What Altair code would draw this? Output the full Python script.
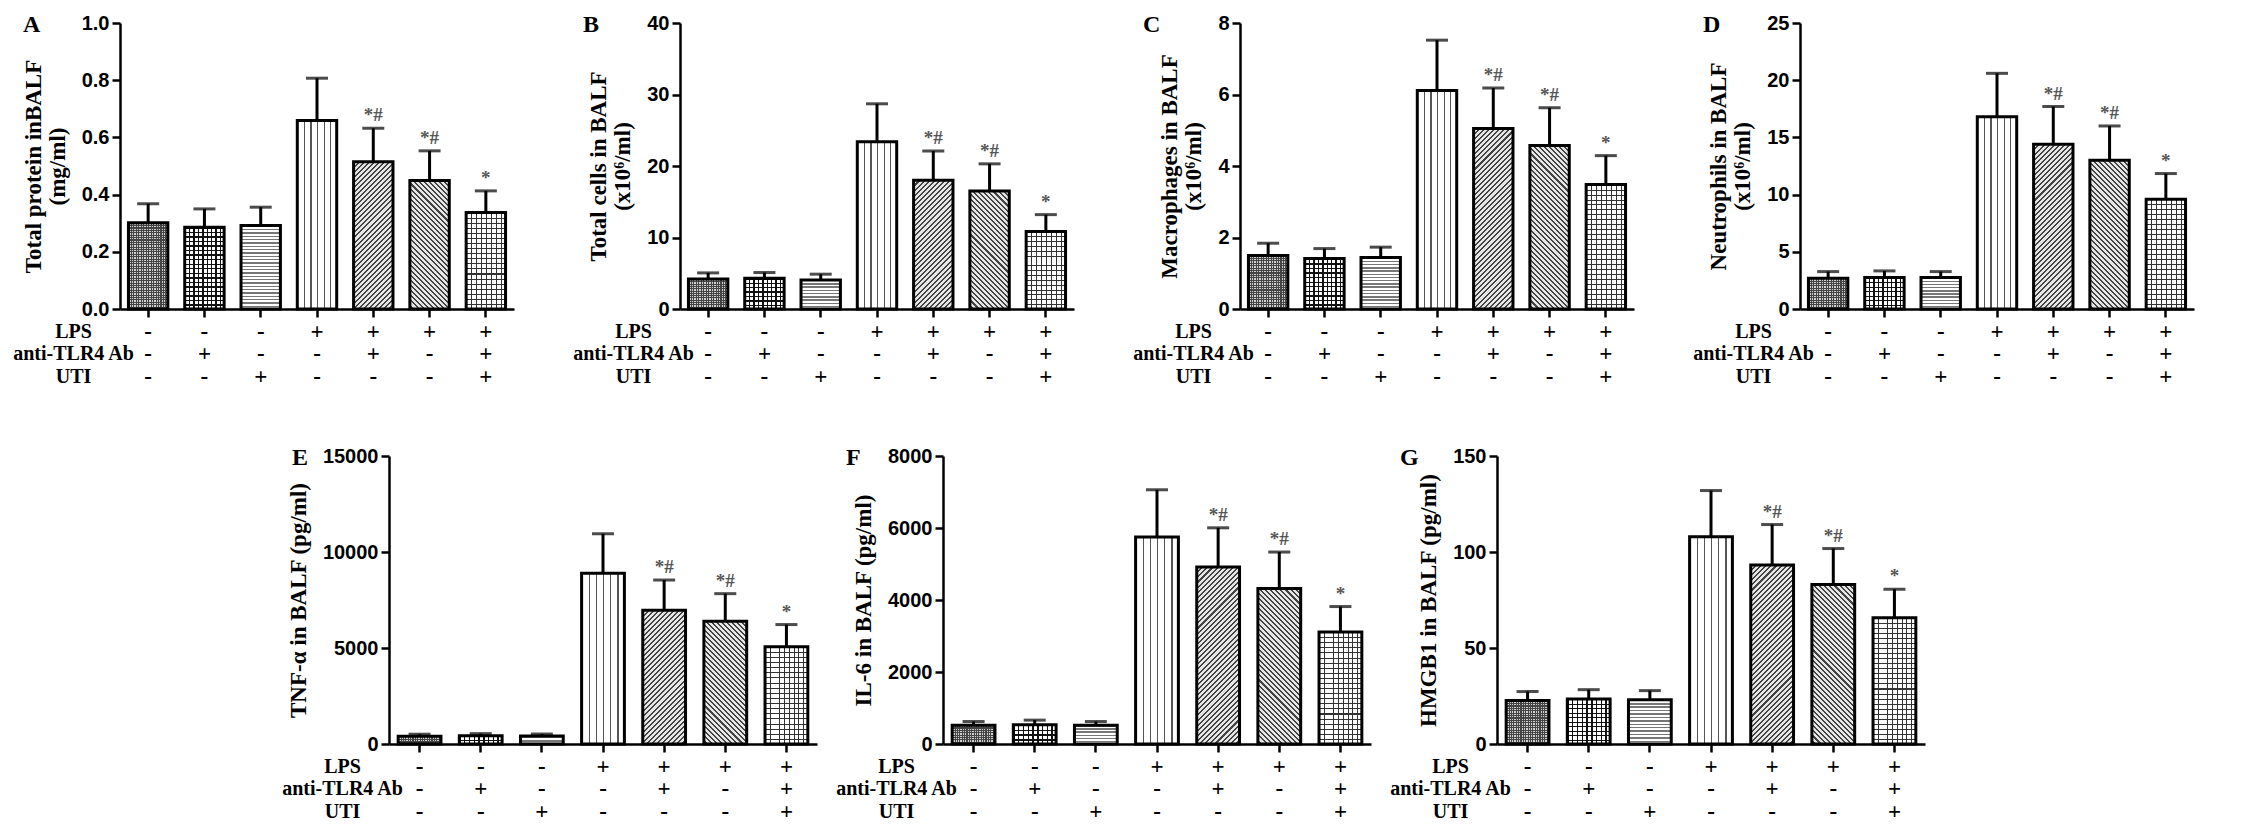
import math

import altair as alt
import pandas as pd

# treatment groups, one bar each
groups = ["1", "2", "3", "4", "5", "6", "7"]
lps = ["-", "-", "-", "+", "+", "+", "+"]
anti_tlr4 = ["-", "+", "-", "-", "+", "-", "+"]
uti = ["-", "-", "+", "-", "-", "-", "+"]
signif = ["", "", "", "", "*#", "*#", "*"]

# A  total protein (mg/ml)
protein_mean = [0.302, 0.286, 0.292, 0.659, 0.515, 0.449, 0.337]
protein_err = [0.066, 0.064, 0.064, 0.148, 0.117, 0.104, 0.076]
# B  total cells (x10^6/ml)
cells_mean = [4.2, 4.3, 4.07, 23.4, 18.0, 16.5, 10.85]
cells_err = [0.85, 0.8, 0.8, 5.3, 4.1, 3.8, 2.35]
# C  macrophages (x10^6/ml)
macro_mean = [1.50, 1.41, 1.44, 6.11, 5.05, 4.57, 3.48]
macro_err = [0.34, 0.28, 0.29, 1.41, 1.13, 1.06, 0.81]
# D  neutrophils (x10^6/ml)
neutro_mean = [2.69, 2.75, 2.75, 16.8, 14.4, 13.0, 9.6]
neutro_err = [0.58, 0.58, 0.52, 3.8, 3.3, 3.0, 2.24]
# E  TNF-a (pg/ml)
tnf_mean = [400, 430, 420, 8890, 6960, 6390, 5070]
tnf_err = [110, 110, 100, 2060, 1580, 1440, 1150]
# F  IL-6 (pg/ml)
il6_mean = [524, 533, 524, 5747, 4920, 4322, 3108]
il6_err = [100, 130, 100, 1315, 1085, 1010, 710]
# G  HMGB1 (pg/ml)
hmgb1_mean = [22.6, 23.4, 23.1, 107.9, 93.2, 83.1, 65.7]
hmgb1_err = [4.7, 4.9, 4.7, 24.1, 21.1, 18.7, 14.9]

SERIF = "Liberation Serif"
SANS = "Liberation Sans"
CLEAR = "rgba(0,0,0,0)"


def stripes(n, color, frac, bg, x1, y1, x2, y2):
    stops = []
    for k in range(n):
        a = k / n
        b = (k + frac) / n
        stops += [alt.GradientStop(offset=a, color=color),
                  alt.GradientStop(offset=b, color=color),
                  alt.GradientStop(offset=b, color=bg),
                  alt.GradientStop(offset=(k + 1) / n, color=bg)]
    return alt.LinearGradient(gradient="linear", stops=stops,
                              x1=x1, y1=y1, x2=x2, y2=y2)


def vlines(w, gap, color, frac, bg):
    return stripes(max(1, round(w / gap)), color, frac, bg, 0, 0, 1, 0)


def hlines(h, gap, color, frac, bg):
    return stripes(max(1, round(h / gap)), color, frac, bg, 0, 0, 0, 1)


def diag(w, h, gap, color, frac, bg, back=False):
    r = w / h
    b = (1 + r) / (1 + r * r)
    a = r * b
    n = max(1, round((w + h) / (math.sqrt(2) * gap)))
    if back:
        return stripes(n, color, frac, bg, 1, 0, 1 - a, b)
    return stripes(n, color, frac, bg, 0, 0, a, b)


def bar_fills(i, w, h):
    h = max(h, 1.0)
    if i == 0:
        return ["#d0d0d0", vlines(w, 2.4, "#444", 0.45, CLEAR),
                hlines(h, 2.4, "#444", 0.45, CLEAR)]
    if i == 1:
        return ["white", vlines(w, 4.6, "#111", 0.3, CLEAR),
                hlines(h, 4.6, "#111", 0.3, CLEAR)]
    if i == 2:
        return [hlines(h, 3.3, "#777", 0.45, "white")]
    if i == 3:
        return [vlines(w, 6.7, "#555", 0.18, "white")]
    if i == 4:
        return [diag(w, h, 3.6, "#444", 0.4, "#e6e6e6")]
    if i == 5:
        return [diag(w, h, 3.6, "#444", 0.4, "#e6e6e6", back=True)]
    return ["white", vlines(w, 5.0, "#333", 0.2, CLEAR),
            hlines(h, 5.0, "#333", 0.2, CLEAR)]


def sign_expr():
    parts = []
    for g, a, b, c in zip(groups, lps, anti_tlr4, uti):
        parts.append(f"datum.value == '{g}' ? ['{a}', '{b}', '{c}']")
    return " : ".join(parts) + " : ''"


def panel(letter, means, errs, ymax, ticks, fmt, ytitle, w, h):
    df = pd.DataFrame({
        "g": groups,
        "mean": means,
        "upper": [m + e for m, e in zip(means, errs)],
        "sig": signif,
    })
    base = alt.Chart(df)

    x_axis = alt.Axis(
        title=["LPS", "anti-TLR4 Ab", "UTI"], titleX=-47, titleY=12,
        titleAlign="center", titleBaseline="top", titleFont=SERIF,
        titleFontSize=20, titleLineHeight=22.5,
        labelExpr=sign_expr(), labelFont=SERIF, labelFontSize=23,
        labelLineHeight=22.5, labelBaseline="top", labelPadding=3,
        labelAngle=0, labelOverlap=False)
    y_axis = alt.Axis(
        values=ticks, format=fmt, title=ytitle, titleFont=SERIF,
        titleFontSize=23, titleLineHeight=24, titlePadding=12,
        labelFont=SANS, labelFontSize=20, labelPadding=3)
    x = alt.X("g:N", sort=groups, axis=x_axis,
              scale=alt.Scale(paddingInner=0.3, paddingOuter=0.15))

    def y(field):
        return alt.Y(field, axis=y_axis,
                     scale=alt.Scale(domain=[0, ymax], nice=False))

    bw = 0.7 * w / 7
    layers = []
    for i, g in enumerate(groups):
        bh = means[i] / ymax * h
        for fill in bar_fills(i, bw, bh):
            layers.append(
                base.transform_filter(alt.datum.g == g)
                .mark_bar(fill=fill, strokeWidth=0)
                .encode(x=x, y=y("mean:Q")))

    outline = base.mark_bar(fillOpacity=0, stroke="black",
                            strokeWidth=3).encode(x=x, y=y("mean:Q"))
    stem = base.mark_rule(color="black", strokeWidth=3).encode(
        x=x, y=y("mean:Q"), y2="upper:Q")
    cap = base.mark_tick(color="black", thickness=3, size=22).encode(
        x=x, y=y("upper:Q"))
    stars = base.mark_text(baseline="bottom", dy=-3, font=SERIF,
                           fontSize=19, fontWeight="bold",
                           color="#555").encode(
        x=x, y=y("upper:Q"), text="sig:N")

    return alt.layer(*layers, stem, cap, outline, stars).properties(
        width=w, height=h,
        title=alt.TitleParams(letter, anchor="start", frame="group",
                              dx=-97, dy=24, offset=0, font=SERIF,
                              fontSize=24, fontWeight="bold"))


top = alt.hconcat(
    panel("A", protein_mean, protein_err, 1.0,
          [0, 0.2, 0.4, 0.6, 0.8, 1.0], ".1f",
          ["Total protein inBALF", "(mg/ml)"], 394, 286),
    panel("B", cells_mean, cells_err, 40, [0, 10, 20, 30, 40], "d",
          ["Total cells in BALF", "(x10⁶/ml)"], 394, 286),
    panel("C", macro_mean, macro_err, 8, [0, 2, 4, 6, 8], "d",
          ["Macrophages in BALF", "(x10⁶/ml)"], 394, 286),
    panel("D", neutro_mean, neutro_err, 25, [0, 5, 10, 15, 20, 25], "d",
          ["Neutrophils in BALF", "(x10⁶/ml)"], 394, 286),
    spacing=58)

bottom = alt.hconcat(
    panel("E", tnf_mean, tnf_err, 15000, [0, 5000, 10000, 15000], "d",
          "TNF-α in BALF (pg/ml)", 428, 288),
    panel("F", il6_mean, il6_err, 8000, [0, 2000, 4000, 6000, 8000], "d",
          "IL-6 in BALF (pg/ml)", 428, 288),
    panel("G", hmgb1_mean, hmgb1_err, 150, [0, 50, 100, 150], "d",
          "HMGB1 in BALF (pg/ml)", 428, 288),
    spacing=18)

chart = alt.vconcat(top, bottom, spacing=58, center=True).configure(
    background="white", padding={"left": 4, "top": 5, "right": 4, "bottom": 4}
).configure_view(stroke=None).configure_axis(
    domainColor="black", domainWidth=2.5, tickColor="black", tickWidth=2.5,
    tickSize=8, grid=False, labelColor="black", titleColor="black",
    labelFontWeight="bold", titleFontWeight="bold")

chart.save("out.html", embed_options={"renderer": "svg", "actions": False})
